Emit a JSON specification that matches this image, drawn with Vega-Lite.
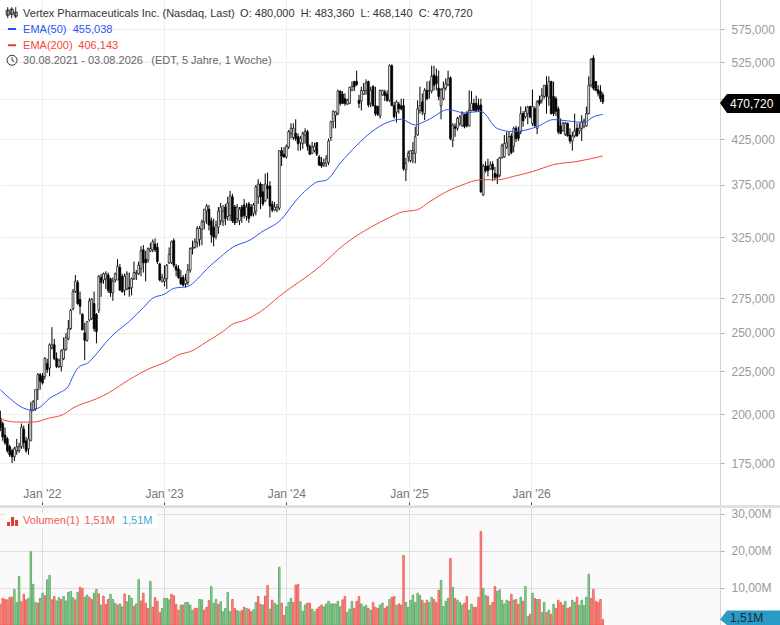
{
"$schema":"https://vega.github.io/schema/vega-lite/v6.json",
"padding":0,
"spacing":0,
"bounds":"flush",
"background":"#ffffff",
"config":{"font":"Liberation Sans","concat":{"spacing":0}},
"datasets":{
"weeks":[
{"d":"2021-08-30","o":198,"h":202,"l":191,"c":193,"v":5.6,"s":"down"},
{"d":"2021-09-06","o":195,"h":196,"l":186,"c":188,"v":7.2,"s":"down"},
{"d":"2021-09-13","o":189,"h":193,"l":184,"c":185,"v":6.9,"s":"down"},
{"d":"2021-09-20","o":187,"h":188,"l":180,"c":181,"v":6.8,"s":"down"},
{"d":"2021-09-27","o":183,"h":184,"l":178,"c":179,"v":7.5,"s":"down"},
{"d":"2021-10-04","o":181,"h":182,"l":175,"c":178,"v":7.5,"s":"down"},
{"d":"2021-10-11","o":178,"h":183,"l":176,"c":182,"v":9.6,"s":"up"},
{"d":"2021-10-18","o":181,"h":187,"l":179,"c":183,"v":6.1,"s":"up"},
{"d":"2021-10-25","o":181,"h":185,"l":180,"c":183,"v":13.1,"s":"up"},
{"d":"2021-11-01","o":183,"h":195,"l":182,"c":193,"v":6.3,"s":"down"},
{"d":"2021-11-08","o":192,"h":194,"l":182,"c":185,"v":8.3,"s":"down"},
{"d":"2021-11-15","o":186,"h":188,"l":180,"c":181,"v":6.8,"s":"down"},
{"d":"2021-11-22","o":182,"h":195,"l":179,"c":187,"v":7.2,"s":"up"},
{"d":"2021-11-29","o":186,"h":207,"l":186,"c":202,"v":19.8,"s":"up"},
{"d":"2021-12-06","o":202,"h":208,"l":202,"c":207,"v":11,"s":"up"},
{"d":"2021-12-13","o":203,"h":214,"l":202,"c":214,"v":6.1,"s":"up"},
{"d":"2021-12-20","o":214,"h":224,"l":208,"c":223,"v":5.9,"s":"down"},
{"d":"2021-12-27","o":223,"h":224,"l":214,"c":219,"v":7.2,"s":"up"},
{"d":"2022-01-03","o":222,"h":224,"l":217,"c":218,"v":8.6,"s":"up"},
{"d":"2022-01-10","o":222,"h":234,"l":220,"c":233,"v":7.9,"s":"down"},
{"d":"2022-01-17","o":230,"h":233,"l":224,"c":226,"v":12.2,"s":"up"},
{"d":"2022-01-24","o":227,"h":243,"l":222,"c":242,"v":13.4,"s":"up"},
{"d":"2022-01-31","o":240,"h":254,"l":239,"c":242,"v":6.8,"s":"down"},
{"d":"2022-02-07","o":242,"h":246,"l":232,"c":233,"v":7.7,"s":"down"},
{"d":"2022-02-14","o":233,"h":237,"l":227,"c":228,"v":6.5,"s":"up"},
{"d":"2022-02-21","o":228,"h":233,"l":227,"c":232,"v":7.4,"s":"up"},
{"d":"2022-02-28","o":228,"h":239,"l":225,"c":238,"v":6.9,"s":"down"},
{"d":"2022-03-07","o":233,"h":247,"l":232,"c":239,"v":7.7,"s":"up"},
{"d":"2022-03-14","o":239,"h":250,"l":238,"c":247,"v":6.5,"s":"up"},
{"d":"2022-03-21","o":246,"h":259,"l":245,"c":253,"v":8.8,"s":"up"},
{"d":"2022-03-28","o":253,"h":267,"l":252,"c":266,"v":9.1,"s":"up"},
{"d":"2022-04-04","o":267,"h":282,"l":266,"c":280,"v":7.4,"s":"up"},
{"d":"2022-04-11","o":280,"h":293,"l":279,"c":288,"v":6.8,"s":"down"},
{"d":"2022-04-18","o":287,"h":289,"l":270,"c":271,"v":8.8,"s":"up"},
{"d":"2022-04-25","o":274,"h":280,"l":263,"c":269,"v":10.2,"s":"down"},
{"d":"2022-05-02","o":263,"h":264,"l":252,"c":252,"v":9.9,"s":"down"},
{"d":"2022-05-09","o":250,"h":257,"l":232,"c":245,"v":7.5,"s":"up"},
{"d":"2022-05-16","o":245,"h":258,"l":244,"c":258,"v":8.1,"s":"up"},
{"d":"2022-05-23","o":259,"h":275,"l":258,"c":273,"v":7.5,"s":"down"},
{"d":"2022-05-30","o":260,"h":275,"l":259,"c":274,"v":6.9,"s":"down"},
{"d":"2022-06-06","o":271,"h":280,"l":251,"c":253,"v":8.6,"s":"up"},
{"d":"2022-06-13","o":263,"h":264,"l":243,"c":251,"v":9.6,"s":"up"},
{"d":"2022-06-20","o":266,"h":293,"l":264,"c":292,"v":8.4,"s":"down"},
{"d":"2022-06-27","o":291,"h":294,"l":276,"c":287,"v":5.4,"s":"up"},
{"d":"2022-07-04","o":289,"h":295,"l":286,"c":294,"v":7.8,"s":"down"},
{"d":"2022-07-11","o":290,"h":296,"l":282,"c":294,"v":5.6,"s":"down"},
{"d":"2022-07-18","o":293,"h":295,"l":279,"c":281,"v":6.9,"s":"down"},
{"d":"2022-07-25","o":290,"h":291,"l":276,"c":279,"v":8.3,"s":"up"},
{"d":"2022-08-01","o":279,"h":291,"l":273,"c":288,"v":6.9,"s":"up"},
{"d":"2022-08-08","o":289,"h":295,"l":287,"c":294,"v":5.9,"s":"up"},
{"d":"2022-08-15","o":289,"h":306,"l":289,"c":300,"v":5.4,"s":"down"},
{"d":"2022-08-22","o":299,"h":302,"l":281,"c":281,"v":5.7,"s":"up"},
{"d":"2022-08-29","o":292,"h":294,"l":279,"c":280,"v":4.9,"s":"up"},
{"d":"2022-09-05","o":281,"h":294,"l":277,"c":292,"v":8.4,"s":"down"},
{"d":"2022-09-12","o":282,"h":296,"l":281,"c":294,"v":6.3,"s":"up"},
{"d":"2022-09-19","o":283,"h":295,"l":276,"c":282,"v":8,"s":"up"},
{"d":"2022-09-26","o":283,"h":291,"l":277,"c":290,"v":7.2,"s":"up"},
{"d":"2022-10-03","o":290,"h":304,"l":289,"c":295,"v":5.1,"s":"down"},
{"d":"2022-10-10","o":294,"h":297,"l":289,"c":295,"v":5.7,"s":"up"},
{"d":"2022-10-17","o":294,"h":304,"l":293,"c":301,"v":12.3,"s":"up"},
{"d":"2022-10-24","o":298,"h":317,"l":292,"c":313,"v":6.5,"s":"down"},
{"d":"2022-10-31","o":314,"h":318,"l":295,"c":303,"v":8.6,"s":"down"},
{"d":"2022-11-07","o":306,"h":313,"l":288,"c":303,"v":5.9,"s":"down"},
{"d":"2022-11-14","o":305,"h":316,"l":303,"c":315,"v":4.5,"s":"down"},
{"d":"2022-11-21","o":313,"h":320,"l":312,"c":315,"v":11.8,"s":"up"},
{"d":"2022-11-28","o":314,"h":323,"l":312,"c":321,"v":4.8,"s":"down"},
{"d":"2022-12-05","o":319,"h":324,"l":312,"c":314,"v":7.4,"s":"down"},
{"d":"2022-12-12","o":316,"h":320,"l":302,"c":304,"v":6.4,"s":"down"},
{"d":"2022-12-19","o":302,"h":303,"l":288,"c":289,"v":3.4,"s":"down"},
{"d":"2022-12-26","o":288,"h":294,"l":287,"c":291,"v":4.5,"s":"up"},
{"d":"2023-01-02","o":288,"h":301,"l":284,"c":290,"v":7.2,"s":"up"},
{"d":"2023-01-09","o":290,"h":302,"l":282,"c":301,"v":7.2,"s":"up"},
{"d":"2023-01-16","o":303,"h":316,"l":302,"c":310,"v":6.8,"s":"up"},
{"d":"2023-01-23","o":303,"h":322,"l":302,"c":321,"v":8.3,"s":"down"},
{"d":"2023-01-30","o":322,"h":324,"l":299,"c":301,"v":7.9,"s":"down"},
{"d":"2023-02-06","o":300,"h":302,"l":292,"c":297,"v":5.6,"s":"down"},
{"d":"2023-02-13","o":298,"h":301,"l":290,"c":291,"v":4,"s":"down"},
{"d":"2023-02-20","o":291,"h":297,"l":285,"c":286,"v":5.4,"s":"up"},
{"d":"2023-02-27","o":291,"h":293,"l":284,"c":285,"v":5.4,"s":"down"},
{"d":"2023-03-06","o":286,"h":294,"l":283,"c":289,"v":6.1,"s":"up"},
{"d":"2023-03-13","o":287,"h":302,"l":285,"c":297,"v":6.1,"s":"up"},
{"d":"2023-03-20","o":297,"h":316,"l":295,"c":315,"v":5.4,"s":"up"},
{"d":"2023-03-27","o":315,"h":322,"l":310,"c":316,"v":4,"s":"up"},
{"d":"2023-04-03","o":316,"h":324,"l":315,"c":321,"v":4.5,"s":"down"},
{"d":"2023-04-10","o":320,"h":335,"l":316,"c":333,"v":4.5,"s":"down"},
{"d":"2023-04-17","o":323,"h":335,"l":317,"c":333,"v":6.9,"s":"up"},
{"d":"2023-04-24","o":332,"h":341,"l":318,"c":339,"v":6.8,"s":"up"},
{"d":"2023-05-01","o":339,"h":351,"l":332,"c":351,"v":4,"s":"down"},
{"d":"2023-05-08","o":349,"h":356,"l":337,"c":354,"v":4.8,"s":"down"},
{"d":"2023-05-15","o":351,"h":355,"l":331,"c":336,"v":6.6,"s":"down"},
{"d":"2023-05-22","o":340,"h":343,"l":320,"c":327,"v":10.4,"s":"up"},
{"d":"2023-05-29","o":334,"h":342,"l":317,"c":325,"v":5.9,"s":"up"},
{"d":"2023-06-05","o":326,"h":340,"l":323,"c":336,"v":6.9,"s":"up"},
{"d":"2023-06-12","o":334,"h":353,"l":328,"c":349,"v":5.6,"s":"down"},
{"d":"2023-06-19","o":340,"h":357,"l":336,"c":353,"v":6.3,"s":"up"},
{"d":"2023-06-26","o":339,"h":355,"l":335,"c":349,"v":3.6,"s":"up"},
{"d":"2023-07-03","o":353,"h":356,"l":336,"c":342,"v":4.5,"s":"up"},
{"d":"2023-07-10","o":344,"h":363,"l":340,"c":357,"v":8.8,"s":"up"},
{"d":"2023-07-17","o":345,"h":369,"l":340,"c":364,"v":3.6,"s":"up"},
{"d":"2023-07-24","o":363,"h":366,"l":338,"c":340,"v":6.9,"s":"down"},
{"d":"2023-07-31","o":353,"h":355,"l":336,"c":338,"v":4.5,"s":"down"},
{"d":"2023-08-07","o":342,"h":356,"l":338,"c":353,"v":3.9,"s":"up"},
{"d":"2023-08-14","o":340,"h":353,"l":336,"c":351,"v":3.6,"s":"up"},
{"d":"2023-08-21","o":353,"h":355,"l":338,"c":344,"v":3.9,"s":"down"},
{"d":"2023-08-28","o":355,"h":361,"l":342,"c":345,"v":4.8,"s":"down"},
{"d":"2023-09-04","o":344,"h":357,"l":340,"c":353,"v":4.5,"s":"up"},
{"d":"2023-09-11","o":356,"h":358,"l":338,"c":342,"v":4.3,"s":"down"},
{"d":"2023-09-18","o":353,"h":356,"l":344,"c":345,"v":3.6,"s":"down"},
{"d":"2023-09-25","o":347,"h":357,"l":344,"c":355,"v":4.1,"s":"up"},
{"d":"2023-10-02","o":349,"h":375,"l":345,"c":373,"v":6.1,"s":"up"},
{"d":"2023-10-09","o":363,"h":381,"l":356,"c":376,"v":7.7,"s":"down"},
{"d":"2023-10-16","o":376,"h":378,"l":351,"c":363,"v":5.6,"s":"down"},
{"d":"2023-10-23","o":368,"h":376,"l":354,"c":356,"v":5.4,"s":"up"},
{"d":"2023-10-30","o":359,"h":387,"l":358,"c":376,"v":7.8,"s":"down"},
{"d":"2023-11-06","o":374,"h":388,"l":361,"c":371,"v":10.7,"s":"down"},
{"d":"2023-11-13","o":374,"h":379,"l":343,"c":354,"v":4.3,"s":"up"},
{"d":"2023-11-20","o":356,"h":359,"l":348,"c":350,"v":6.7,"s":"down"},
{"d":"2023-11-27","o":350,"h":358,"l":349,"c":353,"v":5.9,"s":"up"},
{"d":"2023-12-04","o":350,"h":356,"l":348,"c":353,"v":5.4,"s":"up"},
{"d":"2023-12-11","o":352,"h":412,"l":350,"c":412,"v":15.6,"s":"up"},
{"d":"2023-12-18","o":412,"h":416,"l":395,"c":406,"v":5.9,"s":"down"},
{"d":"2023-12-25","o":408,"h":416,"l":404,"c":405,"v":2.6,"s":"down"},
{"d":"2024-01-01","o":405,"h":419,"l":403,"c":417,"v":4.9,"s":"up"},
{"d":"2024-01-08","o":416,"h":436,"l":414,"c":434,"v":6.1,"s":"up"},
{"d":"2024-01-15","o":432,"h":444,"l":426,"c":438,"v":7.2,"s":"up"},
{"d":"2024-01-22","o":427,"h":444,"l":424,"c":438,"v":6.1,"s":"down"},
{"d":"2024-01-29","o":432,"h":449,"l":423,"c":426,"v":10.8,"s":"down"},
{"d":"2024-02-05","o":428,"h":432,"l":412,"c":420,"v":11,"s":"down"},
{"d":"2024-02-12","o":421,"h":429,"l":412,"c":426,"v":6.3,"s":"up"},
{"d":"2024-02-19","o":420,"h":434,"l":414,"c":432,"v":3.7,"s":"up"},
{"d":"2024-02-26","o":430,"h":438,"l":420,"c":434,"v":5.4,"s":"up"},
{"d":"2024-03-04","o":434,"h":436,"l":412,"c":417,"v":5.9,"s":"down"},
{"d":"2024-03-11","o":417,"h":419,"l":407,"c":408,"v":5.9,"s":"down"},
{"d":"2024-03-18","o":409,"h":422,"l":408,"c":416,"v":4.3,"s":"up"},
{"d":"2024-03-25","o":412,"h":421,"l":410,"c":417,"v":3.6,"s":"up"},
{"d":"2024-04-01","o":421,"h":422,"l":406,"c":408,"v":4.3,"s":"down"},
{"d":"2024-04-08","o":405,"h":407,"l":395,"c":396,"v":4.9,"s":"down"},
{"d":"2024-04-15","o":399,"h":405,"l":393,"c":395,"v":5.4,"s":"down"},
{"d":"2024-04-22","o":396,"h":403,"l":394,"c":398,"v":4.9,"s":"up"},
{"d":"2024-04-29","o":398,"h":407,"l":394,"c":403,"v":5.7,"s":"up"},
{"d":"2024-05-06","o":399,"h":426,"l":396,"c":423,"v":6.4,"s":"up"},
{"d":"2024-05-13","o":427,"h":447,"l":423,"c":446,"v":5.7,"s":"up"},
{"d":"2024-05-20","o":446,"h":460,"l":438,"c":459,"v":5.7,"s":"up"},
{"d":"2024-05-27","o":454,"h":459,"l":438,"c":458,"v":5.7,"s":"up"},
{"d":"2024-06-03","o":456,"h":487,"l":454,"c":485,"v":6.4,"s":"up"},
{"d":"2024-06-10","o":485,"h":486,"l":466,"c":469,"v":4.9,"s":"up"},
{"d":"2024-06-17","o":481,"h":485,"l":468,"c":469,"v":6.8,"s":"down"},
{"d":"2024-06-24","o":475,"h":482,"l":466,"c":469,"v":7.7,"s":"down"},
{"d":"2024-07-01","o":468,"h":475,"l":467,"c":473,"v":3.4,"s":"up"},
{"d":"2024-07-08","o":469,"h":491,"l":468,"c":490,"v":4.3,"s":"up"},
{"d":"2024-07-15","o":486,"h":498,"l":485,"c":491,"v":6.4,"s":"up"},
{"d":"2024-07-22","o":498,"h":499,"l":485,"c":491,"v":4.5,"s":"down"},
{"d":"2024-07-29","o":498,"h":513,"l":492,"c":494,"v":6.4,"s":"down"},
{"d":"2024-08-05","o":473,"h":480,"l":463,"c":469,"v":7.7,"s":"down"},
{"d":"2024-08-12","o":472,"h":491,"l":460,"c":486,"v":5.7,"s":"up"},
{"d":"2024-08-19","o":481,"h":496,"l":480,"c":486,"v":4.9,"s":"up"},
{"d":"2024-08-26","o":486,"h":501,"l":480,"c":496,"v":5.3,"s":"up"},
{"d":"2024-09-02","o":498,"h":499,"l":464,"c":467,"v":4.5,"s":"down"},
{"d":"2024-09-09","o":469,"h":491,"l":464,"c":486,"v":4,"s":"up"},
{"d":"2024-09-16","o":491,"h":493,"l":465,"c":466,"v":6.1,"s":"down"},
{"d":"2024-09-23","o":466,"h":491,"l":453,"c":456,"v":4.8,"s":"down"},
{"d":"2024-09-30","o":465,"h":466,"l":453,"c":455,"v":4.5,"s":"down"},
{"d":"2024-10-07","o":453,"h":487,"l":450,"c":486,"v":5.4,"s":"up"},
{"d":"2024-10-14","o":480,"h":487,"l":479,"c":486,"v":5.9,"s":"up"},
{"d":"2024-10-21","o":484,"h":487,"l":472,"c":479,"v":4.5,"s":"down"},
{"d":"2024-10-28","o":481,"h":486,"l":471,"c":473,"v":5,"s":"down"},
{"d":"2024-11-04","o":473,"h":522,"l":471,"c":520,"v":6.9,"s":"up"},
{"d":"2024-11-11","o":520,"h":522,"l":466,"c":466,"v":7.5,"s":"down"},
{"d":"2024-11-18","o":466,"h":471,"l":450,"c":452,"v":7.7,"s":"down"},
{"d":"2024-11-25","o":458,"h":473,"l":445,"c":471,"v":5.3,"s":"up"},
{"d":"2024-12-02","o":468,"h":471,"l":456,"c":462,"v":5.7,"s":"down"},
{"d":"2024-12-09","o":466,"h":475,"l":460,"c":462,"v":5.4,"s":"down"},
{"d":"2024-12-16","o":466,"h":475,"l":390,"c":392,"v":18.8,"s":"down"},
{"d":"2024-12-23","o":391,"h":404,"l":379,"c":398,"v":6.1,"s":"up"},
{"d":"2024-12-30","o":405,"h":412,"l":399,"c":409,"v":4.8,"s":"up"},
{"d":"2025-01-06","o":401,"h":412,"l":399,"c":412,"v":6.7,"s":"up"},
{"d":"2025-01-13","o":409,"h":422,"l":398,"c":412,"v":8.1,"s":"up"},
{"d":"2025-01-20","o":409,"h":440,"l":398,"c":428,"v":6.1,"s":"up"},
{"d":"2025-01-27","o":430,"h":473,"l":429,"c":462,"v":8.6,"s":"up"},
{"d":"2025-02-03","o":460,"h":491,"l":456,"c":466,"v":8,"s":"up"},
{"d":"2025-02-10","o":471,"h":482,"l":454,"c":459,"v":6.7,"s":"down"},
{"d":"2025-02-17","o":456,"h":489,"l":448,"c":486,"v":5.9,"s":"up"},
{"d":"2025-02-24","o":486,"h":498,"l":473,"c":475,"v":6.7,"s":"down"},
{"d":"2025-03-03","o":485,"h":499,"l":475,"c":486,"v":6.1,"s":"up"},
{"d":"2025-03-10","o":485,"h":520,"l":482,"c":505,"v":7.5,"s":"up"},
{"d":"2025-03-17","o":507,"h":520,"l":486,"c":493,"v":6.9,"s":"down"},
{"d":"2025-03-24","o":505,"h":516,"l":486,"c":495,"v":6.1,"s":"down"},
{"d":"2025-03-31","o":489,"h":513,"l":473,"c":478,"v":9.4,"s":"down"},
{"d":"2025-04-07","o":466,"h":489,"l":449,"c":487,"v":12.1,"s":"up"},
{"d":"2025-04-14","o":475,"h":498,"l":473,"c":489,"v":5,"s":"up"},
{"d":"2025-04-21","o":489,"h":502,"l":486,"c":495,"v":6.4,"s":"up"},
{"d":"2025-04-28","o":493,"h":513,"l":492,"c":502,"v":7.2,"s":"up"},
{"d":"2025-05-05","o":503,"h":505,"l":424,"c":426,"v":18,"s":"down"},
{"d":"2025-05-12","o":424,"h":444,"l":416,"c":442,"v":10.2,"s":"up"},
{"d":"2025-05-19","o":440,"h":444,"l":428,"c":438,"v":7.2,"s":"down"},
{"d":"2025-05-26","o":438,"h":452,"l":435,"c":450,"v":6.7,"s":"up"},
{"d":"2025-06-02","o":444,"h":454,"l":441,"c":452,"v":6.1,"s":"up"},
{"d":"2025-06-09","o":441,"h":459,"l":440,"c":456,"v":5.4,"s":"up"},
{"d":"2025-06-16","o":455,"h":456,"l":438,"c":440,"v":5.9,"s":"down"},
{"d":"2025-06-23","o":456,"h":459,"l":439,"c":441,"v":7.7,"s":"down"},
{"d":"2025-06-30","o":441,"h":486,"l":440,"c":460,"v":4,"s":"up"},
{"d":"2025-07-07","o":460,"h":485,"l":459,"c":469,"v":5.6,"s":"up"},
{"d":"2025-07-14","o":469,"h":475,"l":459,"c":460,"v":4.8,"s":"down"},
{"d":"2025-07-21","o":469,"h":479,"l":458,"c":460,"v":4.8,"s":"down"},
{"d":"2025-07-28","o":466,"h":475,"l":459,"c":461,"v":7.5,"s":"down"},
{"d":"2025-08-04","o":467,"h":475,"l":367,"c":368,"v":25.3,"s":"down"},
{"d":"2025-08-11","o":365,"h":397,"l":364,"c":395,"v":9.9,"s":"up"},
{"d":"2025-08-18","o":395,"h":400,"l":388,"c":390,"v":8,"s":"up"},
{"d":"2025-08-25","o":395,"h":403,"l":384,"c":390,"v":7.7,"s":"down"},
{"d":"2025-09-01","o":392,"h":400,"l":391,"c":396,"v":5.3,"s":"up"},
{"d":"2025-09-08","o":397,"h":400,"l":379,"c":391,"v":6.1,"s":"down"},
{"d":"2025-09-15","o":387,"h":394,"l":380,"c":383,"v":10.4,"s":"down"},
{"d":"2025-09-22","o":386,"h":403,"l":376,"c":383,"v":9.1,"s":"up"},
{"d":"2025-09-29","o":385,"h":405,"l":383,"c":404,"v":9.5,"s":"up"},
{"d":"2025-10-06","o":404,"h":420,"l":403,"c":418,"v":6.7,"s":"up"},
{"d":"2025-10-13","o":405,"h":430,"l":404,"c":420,"v":5.7,"s":"up"},
{"d":"2025-10-20","o":416,"h":434,"l":414,"c":421,"v":6.7,"s":"up"},
{"d":"2025-10-27","o":408,"h":434,"l":406,"c":428,"v":6.4,"s":"up"},
{"d":"2025-11-03","o":429,"h":432,"l":408,"c":410,"v":8.3,"s":"down"},
{"d":"2025-11-10","o":417,"h":440,"l":410,"c":438,"v":6.7,"s":"up"},
{"d":"2025-11-17","o":438,"h":441,"l":422,"c":426,"v":6.9,"s":"down"},
{"d":"2025-11-24","o":434,"h":440,"l":423,"c":426,"v":5.6,"s":"down"},
{"d":"2025-12-01","o":434,"h":465,"l":431,"c":456,"v":7.5,"s":"up"},
{"d":"2025-12-08","o":456,"h":459,"l":440,"c":447,"v":6.4,"s":"down"},
{"d":"2025-12-15","o":452,"h":465,"l":450,"c":459,"v":10.4,"s":"up"},
{"d":"2025-12-22","o":456,"h":466,"l":443,"c":464,"v":2.3,"s":"up"},
{"d":"2025-12-29","o":465,"h":466,"l":450,"c":452,"v":2.9,"s":"down"},
{"d":"2026-01-05","o":444,"h":487,"l":441,"c":465,"v":8.6,"s":"up"},
{"d":"2026-01-12","o":462,"h":465,"l":440,"c":441,"v":7.2,"s":"down"},
{"d":"2026-01-19","o":438,"h":473,"l":431,"c":471,"v":6.9,"s":"up"},
{"d":"2026-01-26","o":473,"h":479,"l":466,"c":469,"v":6.9,"s":"down"},
{"d":"2026-02-02","o":473,"h":489,"l":469,"c":479,"v":3.4,"s":"up"},
{"d":"2026-02-09","o":478,"h":493,"l":475,"c":493,"v":6.1,"s":"up"},
{"d":"2026-02-16","o":493,"h":505,"l":456,"c":478,"v":3.4,"s":"down"},
{"d":"2026-02-23","o":477,"h":505,"l":466,"c":498,"v":4,"s":"up"},
{"d":"2026-03-02","o":498,"h":499,"l":455,"c":456,"v":2.9,"s":"down"},
{"d":"2026-03-09","o":478,"h":498,"l":453,"c":456,"v":5.6,"s":"up"},
{"d":"2026-03-16","o":475,"h":478,"l":453,"c":459,"v":4.5,"s":"down"},
{"d":"2026-03-23","o":462,"h":465,"l":431,"c":434,"v":6.7,"s":"down"},
{"d":"2026-03-30","o":441,"h":450,"l":431,"c":432,"v":6.1,"s":"down"},
{"d":"2026-04-06","o":435,"h":446,"l":434,"c":444,"v":5.4,"s":"down"},
{"d":"2026-04-13","o":431,"h":446,"l":429,"c":444,"v":6.4,"s":"up"},
{"d":"2026-04-20","o":444,"h":445,"l":428,"c":429,"v":4.5,"s":"down"},
{"d":"2026-04-27","o":430,"h":438,"l":420,"c":423,"v":4.8,"s":"down"},
{"d":"2026-05-04","o":423,"h":434,"l":412,"c":429,"v":6.7,"s":"up"},
{"d":"2026-05-11","o":429,"h":456,"l":427,"c":435,"v":6.1,"s":"up"},
{"d":"2026-05-18","o":438,"h":444,"l":428,"c":429,"v":7.5,"s":"down"},
{"d":"2026-05-25","o":435,"h":444,"l":431,"c":438,"v":5.3,"s":"up"},
{"d":"2026-06-01","o":438,"h":454,"l":423,"c":446,"v":6.7,"s":"up"},
{"d":"2026-06-08","o":440,"h":450,"l":438,"c":447,"v":5.3,"s":"up"},
{"d":"2026-06-15","o":441,"h":465,"l":440,"c":456,"v":7.5,"s":"up"},
{"d":"2026-06-22","o":456,"h":505,"l":455,"c":493,"v":13.7,"s":"up"},
{"d":"2026-06-29","o":493,"h":531,"l":490,"c":529,"v":7.2,"s":"down"},
{"d":"2026-07-06","o":531,"h":535,"l":486,"c":489,"v":9.6,"s":"down"},
{"d":"2026-07-13","o":498,"h":498,"l":485,"c":486,"v":6.4,"s":"down"},
{"d":"2026-07-20","o":487,"h":493,"l":478,"c":482,"v":6.1,"s":"down"},
{"d":"2026-07-27","o":485,"h":493,"l":471,"c":475,"v":6.9,"s":"down"},
{"d":"2026-08-03","o":480,"h":483.36,"l":468.14,"c":470.72,"v":1.51,"s":"down"}
],
"ema50":[
{"d":"2021-08-30","e":213.9},{"d":"2021-09-27","e":209},{"d":"2021-11-01","e":204},{"d":"2021-11-29","e":202.4},{"d":"2021-12-27","e":204},{"d":"2022-01-24","e":209},{"d":"2022-02-21","e":212},{"d":"2022-03-21","e":216},{"d":"2022-04-04","e":222},{"d":"2022-04-18","e":227},{"d":"2022-05-23","e":231},{"d":"2022-06-13","e":236},{"d":"2022-07-11","e":243.5},{"d":"2022-08-08","e":250},{"d":"2022-09-19","e":258},{"d":"2022-10-31","e":268},{"d":"2022-11-28","e":275},{"d":"2023-01-02","e":278},{"d":"2023-01-30","e":282.5},{"d":"2023-03-13","e":284},{"d":"2023-04-10","e":289.6},{"d":"2023-05-08","e":297.7},{"d":"2023-06-19","e":308},{"d":"2023-07-24","e":316},{"d":"2023-09-18","e":323},{"d":"2023-10-16","e":329},{"d":"2023-12-18","e":341.6},{"d":"2024-01-29","e":359},{"d":"2024-03-04","e":371},{"d":"2024-04-01","e":378},{"d":"2024-04-29","e":380},{"d":"2024-06-10","e":398},{"d":"2024-07-29","e":418},{"d":"2024-09-09","e":433},{"d":"2024-10-28","e":445},{"d":"2024-12-09","e":449},{"d":"2025-01-20","e":442},{"d":"2025-02-10","e":445},{"d":"2025-03-03","e":449},{"d":"2025-04-28","e":461},{"d":"2025-06-16","e":457},{"d":"2025-08-04","e":458.8},{"d":"2025-09-22","e":437.7},{"d":"2025-11-10","e":434},{"d":"2026-01-19","e":440},{"d":"2026-03-09","e":448.6},{"d":"2026-04-20","e":447},{"d":"2026-06-08","e":445},{"d":"2026-07-06","e":452},{"d":"2026-08-03","e":455.04}
],
"ema200":[
{"d":"2021-08-30","e":197.4},{"d":"2021-10-18","e":195.8},{"d":"2021-12-06","e":195.8},{"d":"2022-01-24","e":198},{"d":"2022-03-07","e":200},{"d":"2022-04-04","e":203.5},{"d":"2022-06-13","e":208.7},{"d":"2022-07-18","e":212},{"d":"2022-09-19","e":220},{"d":"2022-11-21","e":227},{"d":"2023-01-02","e":230.4},{"d":"2023-02-20","e":236},{"d":"2023-03-20","e":237.5},{"d":"2023-05-08","e":244},{"d":"2023-06-26","e":251},{"d":"2023-07-24","e":256},{"d":"2023-08-28","e":258.7},{"d":"2023-10-16","e":265},{"d":"2023-12-11","e":276.4},{"d":"2024-04-08","e":299.4},{"d":"2024-06-24","e":319},{"d":"2024-09-09","e":334},{"d":"2024-11-04","e":343},{"d":"2024-12-09","e":348},{"d":"2025-01-27","e":350.5},{"d":"2025-03-03","e":358},{"d":"2025-04-28","e":369},{"d":"2025-06-09","e":375},{"d":"2025-08-04","e":380.4},{"d":"2025-09-22","e":380.4},{"d":"2025-11-10","e":384},{"d":"2026-01-05","e":389},{"d":"2026-03-09","e":396.5},{"d":"2026-05-18","e":400},{"d":"2026-06-29","e":403},{"d":"2026-08-03","e":406.14}
]
},
"vconcat":[
{
"width":720,"height":505,
"view":{"stroke":null,"fill":"#ffffff"},
"layer":[
{"data":{"name":"weeks"},"mark":{"type":"rule","color":"#000000","strokeWidth":1,"clip":true},
 "encoding":{"x":{"field":"d","type":"temporal","title":null,
 "scale":{"domain":[{"year":2021,"month":"aug","date":29},{"year":2027,"month":"jul","date":19}],"nice":false,"padding":0},
 "axis":{"orient":"bottom","values":[{"year":2022,"month":"jan","date":1},{"year":2023,"month":"jan","date":1},{"year":2024,"month":"jan","date":1},{"year":2025,"month":"jan","date":1},{"year":2026,"month":"jan","date":1}],
  "format":"%b '%y","grid":true,"gridColor":"#eeeeee","gridWidth":1,"domain":false,"tickColor":"#444444","tickSize":-3,"labelPadding":-14,"labelColor":"#777777","labelFont":"Liberation Sans","labelFontSize":12,"labelOverlap":false,"labelFlush":false}},
 "y":{"field":"l","type":"quantitative","title":null,
  "scale":{"type":"log","domain":[156,622.6],"nice":false,"zero":false},
  "axis":{"orient":"right","values":[175,200,225,250,275,325,375,425,475,525,575],"labelExpr":"datum.value==475?'':replace(format(datum.value,'.3f'),'.',',')","grid":true,"gridColor":"#eeeeee","gridWidth":1,"domain":true,"domainColor":"#d4d4d4","tickColor":"#b0b0b0","tickSize":4,"labelPadding":7,"labelColor":"#9a9a9a","labelFont":"Liberation Sans","labelFontSize":12,"labelOverlap":false,"labelFlush":false}},
  "y2":{"field":"h"}}},
{"data":{"name":"weeks"},"mark":{"type":"bar","size":1.8,"stroke":"#000000","strokeWidth":0.7,"clip":true},
 "encoding":{"x":{"field":"d","type":"temporal","title":null},"y":{"field":"o","type":"quantitative","title":null},"y2":{"field":"c"},
  "fill":{"condition":{"test":"datum.c>=datum.o","value":"#ffffff"},"value":"#000000"}}},
{"data":{"name":"ema200"},"mark":{"type":"line","color":"#f5483a","strokeWidth":1,"clip":true,"interpolate":"monotone"},
 "encoding":{"x":{"field":"d","type":"temporal","title":null},"y":{"field":"e","type":"quantitative","title":null}}},
{"data":{"name":"ema50"},"mark":{"type":"line","color":"#2a55f5","strokeWidth":1,"clip":true,"interpolate":"monotone"},
 "encoding":{"x":{"field":"d","type":"temporal","title":null},"y":{"field":"e","type":"quantitative","title":null}}},
{"data":{"values":[{"t":"Vertex Pharmaceuticals Inc. (Nasdaq, Last)"}]},"mark":{"type":"text","align":"left","baseline":"middle","fontSize":11,"color":"#333333","dy":1},
 "encoding":{"x":{"datum":{"year":2021,"month":"nov","date":6},"type":"temporal","title":null},"y":{"datum":600.5,"type":"quantitative","title":null},"text":{"field":"t"}}},
{"data":{"values":[{"t":"O: 480,000 \u00a0H: 483,360 \u00a0L: 468,140 \u00a0C: 470,720"}]},"mark":{"type":"text","align":"left","baseline":"middle","fontSize":11,"color":"#333333","dy":1},
 "encoding":{"x":{"datum":{"year":2023,"month":"aug","date":16},"type":"temporal","title":null},"y":{"datum":600.5,"type":"quantitative","title":null},"text":{"field":"t"}}},
{"data":{"values":[{"t":"EMA(50)"}]},"mark":{"type":"text","align":"left","baseline":"middle","fontSize":11,"color":"#2a55f5","dy":1},
 "encoding":{"x":{"datum":{"year":2021,"month":"nov","date":6},"type":"temporal","title":null},"y":{"datum":575,"type":"quantitative","title":null},"text":{"field":"t"}}},
{"data":{"values":[{"t":"455,038"}]},"mark":{"type":"text","align":"left","baseline":"middle","fontSize":11,"color":"#2a55f5","dy":1},
 "encoding":{"x":{"datum":{"year":2022,"month":"apr","date":3},"type":"temporal","title":null},"y":{"datum":575,"type":"quantitative","title":null},"text":{"field":"t"}}},
{"data":{"values":[{"t":"EMA(200)"}]},"mark":{"type":"text","align":"left","baseline":"middle","fontSize":11,"color":"#f5483a","dy":1},
 "encoding":{"x":{"datum":{"year":2021,"month":"nov","date":6},"type":"temporal","title":null},"y":{"datum":550,"type":"quantitative","title":null},"text":{"field":"t"}}},
{"data":{"values":[{"t":"406,143"}]},"mark":{"type":"text","align":"left","baseline":"middle","fontSize":11,"color":"#f5483a","dy":1},
 "encoding":{"x":{"datum":{"year":2022,"month":"apr","date":20},"type":"temporal","title":null},"y":{"datum":550,"type":"quantitative","title":null},"text":{"field":"t"}}},
{"data":{"values":[{"t":"30.08.2021 - 03.08.2026"}]},"mark":{"type":"text","align":"left","baseline":"middle","fontSize":11,"color":"#666666","dy":1},
 "encoding":{"x":{"datum":{"year":2021,"month":"nov","date":6},"type":"temporal","title":null},"y":{"datum":527.8,"type":"quantitative","title":null},"text":{"field":"t"}}},
{"data":{"values":[{"t":"(EDT, 5 Jahre, 1 Woche)"}]},"mark":{"type":"text","align":"left","baseline":"middle","fontSize":11,"color":"#666666","dy":1},
 "encoding":{"x":{"datum":{"year":2022,"month":"nov","date":24},"type":"temporal","title":null},"y":{"datum":527.8,"type":"quantitative","title":null},"text":{"field":"t"}}},
{"data":{"values":[{"k":"icon"}]},"mark":{"type":"point","filled":false,"size":4,"stroke":"#222222","strokeWidth":1,"opacity":1,"shape":"M-4,-6 L-4,5 M-5.5,-3 L-2.5,-3 L-2.5,2 L-5.5,2 Z M0,-6 L0,5 M-1.5,-4 L1.5,-4 L1.5,1 L-1.5,1 Z M4,-6 L4,5 M2.5,-1 L5.5,-1 L5.5,3 L2.5,3 Z"},
 "encoding":{"x":{"datum":{"year":2021,"month":"oct","date":3},"type":"temporal","title":null},"y":{"datum":600.5,"type":"quantitative","title":null}}},
{"data":{"values":[{"k":"icon"}]},"mark":{"type":"point","filled":true,"size":4,"color":"#1e4cff","opacity":1,"shape":"M-4,-1 L4,-1 L4,1 L-4,1 Z"},
 "encoding":{"x":{"datum":{"year":2021,"month":"oct","date":4},"type":"temporal","title":null},"y":{"datum":575,"type":"quantitative","title":null}}},
{"data":{"values":[{"k":"icon"}]},"mark":{"type":"point","filled":true,"size":4,"color":"#f5382a","opacity":1,"shape":"M-4,-1 L4,-1 L4,1 L-4,1 Z"},
 "encoding":{"x":{"datum":{"year":2021,"month":"oct","date":4},"type":"temporal","title":null},"y":{"datum":550,"type":"quantitative","title":null}}},
{"data":{"values":[{"k":"icon"}]},"mark":{"type":"point","filled":false,"size":4,"stroke":"#333333","strokeWidth":1,"opacity":1,"shape":"M5,0 A5,5 0 1,1 -5,0 A5,5 0 1,1 5,0 M0,-3 L0,0 L2.5,1.5"},
 "encoding":{"x":{"datum":{"year":2021,"month":"oct","date":4},"type":"temporal","title":null},"y":{"datum":527.8,"type":"quantitative","title":null}}},
{"data":{"values":[{"k":"last"}]},"mark":{"type":"point","filled":true,"size":4,"color":"#000000","opacity":1,"shape":"M0,1 L7,-8 L60,-8 L60,11 L7,11 Z"},
 "encoding":{"x":{"datum":{"year":2027,"month":"jul","date":19},"type":"temporal","title":null},"y":{"datum":470.72,"type":"quantitative","title":null}}},
{"data":{"values":[{"t":"470,720"}]},"mark":{"type":"text","align":"left","baseline":"middle","fontSize":12,"color":"#ffffff","dx":10,"dy":1.5},
 "encoding":{"x":{"datum":{"year":2027,"month":"jul","date":19},"type":"temporal","title":null},"y":{"datum":470.72,"type":"quantitative","title":null},"text":{"field":"t"}}}
]
},
{
"width":720,"height":120,
"view":{"stroke":null,"fill":"#fafafa"},
"layer":[
{"data":{"name":"weeks"},"mark":{"type":"bar","size":1.5,"strokeWidth":0.9,"clip":true},
 "encoding":{"x":{"field":"d","type":"temporal","title":null,
 "scale":{"domain":[{"year":2021,"month":"aug","date":29},{"year":2027,"month":"jul","date":19}],"nice":false,"padding":0},
 "axis":{"values":[{"year":2022,"month":"jan","date":1},{"year":2023,"month":"jan","date":1},{"year":2024,"month":"jan","date":1},{"year":2025,"month":"jan","date":1},{"year":2026,"month":"jan","date":1}],"grid":true,"gridColor":"#dedede","labels":false,"ticks":false,"domain":false}},
 "y":{"field":"v","type":"quantitative","title":null,"stack":null,
  "scale":{"domain":[0,32.43],"nice":false,"zero":true},
  "axis":{"orient":"right","values":[10,20,30],"labelExpr":"replace(format(datum.value,'.2f'),'.',',')+'M'","grid":true,"gridColor":"#dedede","gridWidth":1,"domain":true,"domainColor":"#d4d4d4","tickColor":"#b0b0b0","tickSize":4,"labelPadding":7,"labelColor":"#9a9a9a","labelFont":"Liberation Sans","labelFontSize":12,"labelOverlap":false,"labelFlush":false}},
  "fill":{"field":"s","type":"nominal","legend":null,"scale":{"domain":["up","down"],"range":["#a5d8a0","#f59a94"]}},
  "stroke":{"field":"s","type":"nominal","legend":null,"scale":{"domain":["up","down"],"range":["#5aa866","#ee5a52"]}}}},
{"data":{"values":[{"k":"box"}]},"mark":{"type":"rect","color":"#ffffff","opacity":0.9},
 "encoding":{"x":{"datum":{"year":2021,"month":"sep","date":14},"type":"temporal","title":null},"x2":{"datum":{"year":2022,"month":"dec","date":12}},"y":{"datum":30.2,"type":"quantitative","title":null},"y2":{"datum":26.2}}},
{"data":{"values":[{"t":"Volumen(1)"}]},"mark":{"type":"text","align":"left","baseline":"middle","fontSize":11,"color":"#f05a50"},
 "encoding":{"x":{"datum":{"year":2021,"month":"nov","date":6},"type":"temporal","title":null},"y":{"datum":28.1,"type":"quantitative","title":null},"text":{"field":"t"}}},
{"data":{"values":[{"t":"1,51M"}]},"mark":{"type":"text","align":"left","baseline":"middle","fontSize":11,"color":"#f05a50"},
 "encoding":{"x":{"datum":{"year":2022,"month":"may","date":8},"type":"temporal","title":null},"y":{"datum":28.1,"type":"quantitative","title":null},"text":{"field":"t"}}},
{"data":{"values":[{"t":"1,51M"}]},"mark":{"type":"text","align":"left","baseline":"middle","fontSize":11,"color":"#46a6cf"},
 "encoding":{"x":{"datum":{"year":2022,"month":"aug","date":28},"type":"temporal","title":null},"y":{"datum":28.1,"type":"quantitative","title":null},"text":{"field":"t"}}},
{"data":{"values":[{"k":"icon"}]},"mark":{"type":"point","filled":true,"size":4,"color":"#e5392e","opacity":1,"shape":"M-5,5 L-5,1 L-2,1 L-2,5 Z M-1,5 L-1,-4 L2,-4 L2,5 Z M3,5 L3,-1 L6,-1 L6,5 Z"},
 "encoding":{"x":{"datum":{"year":2021,"month":"oct","date":4},"type":"temporal","title":null},"y":{"datum":28.1,"type":"quantitative","title":null}}},
{"data":{"values":[{"k":"sep"}]},"mark":{"type":"rect","color":"#e0e0e0","opacity":1},
 "encoding":{"x":{"datum":{"year":2021,"month":"aug","date":29},"type":"temporal","title":null},"x2":{"datum":{"year":2028,"month":"jan","date":14}},"y":{"datum":32.43,"type":"quantitative","title":null},"y2":{"datum":31.62}}},
{"data":{"values":[{"k":"last"}]},"mark":{"type":"point","filled":true,"size":4,"color":"#2a9bc4","opacity":1,"shape":"M0,0 L7,-9 L60,-9 L60,5.5 L7,5.5 Z"},
 "encoding":{"x":{"datum":{"year":2027,"month":"jul","date":19},"type":"temporal","title":null},"y":{"datum":1.51,"type":"quantitative","title":null}}},
{"data":{"values":[{"t":"1,51M"}]},"mark":{"type":"text","align":"left","baseline":"middle","fontSize":12,"color":"#1a2a33","dx":10,"dy":-1},
 "encoding":{"x":{"datum":{"year":2027,"month":"jul","date":19},"type":"temporal","title":null},"y":{"datum":1.51,"type":"quantitative","title":null},"text":{"field":"t"}}}
]
}
]
}
